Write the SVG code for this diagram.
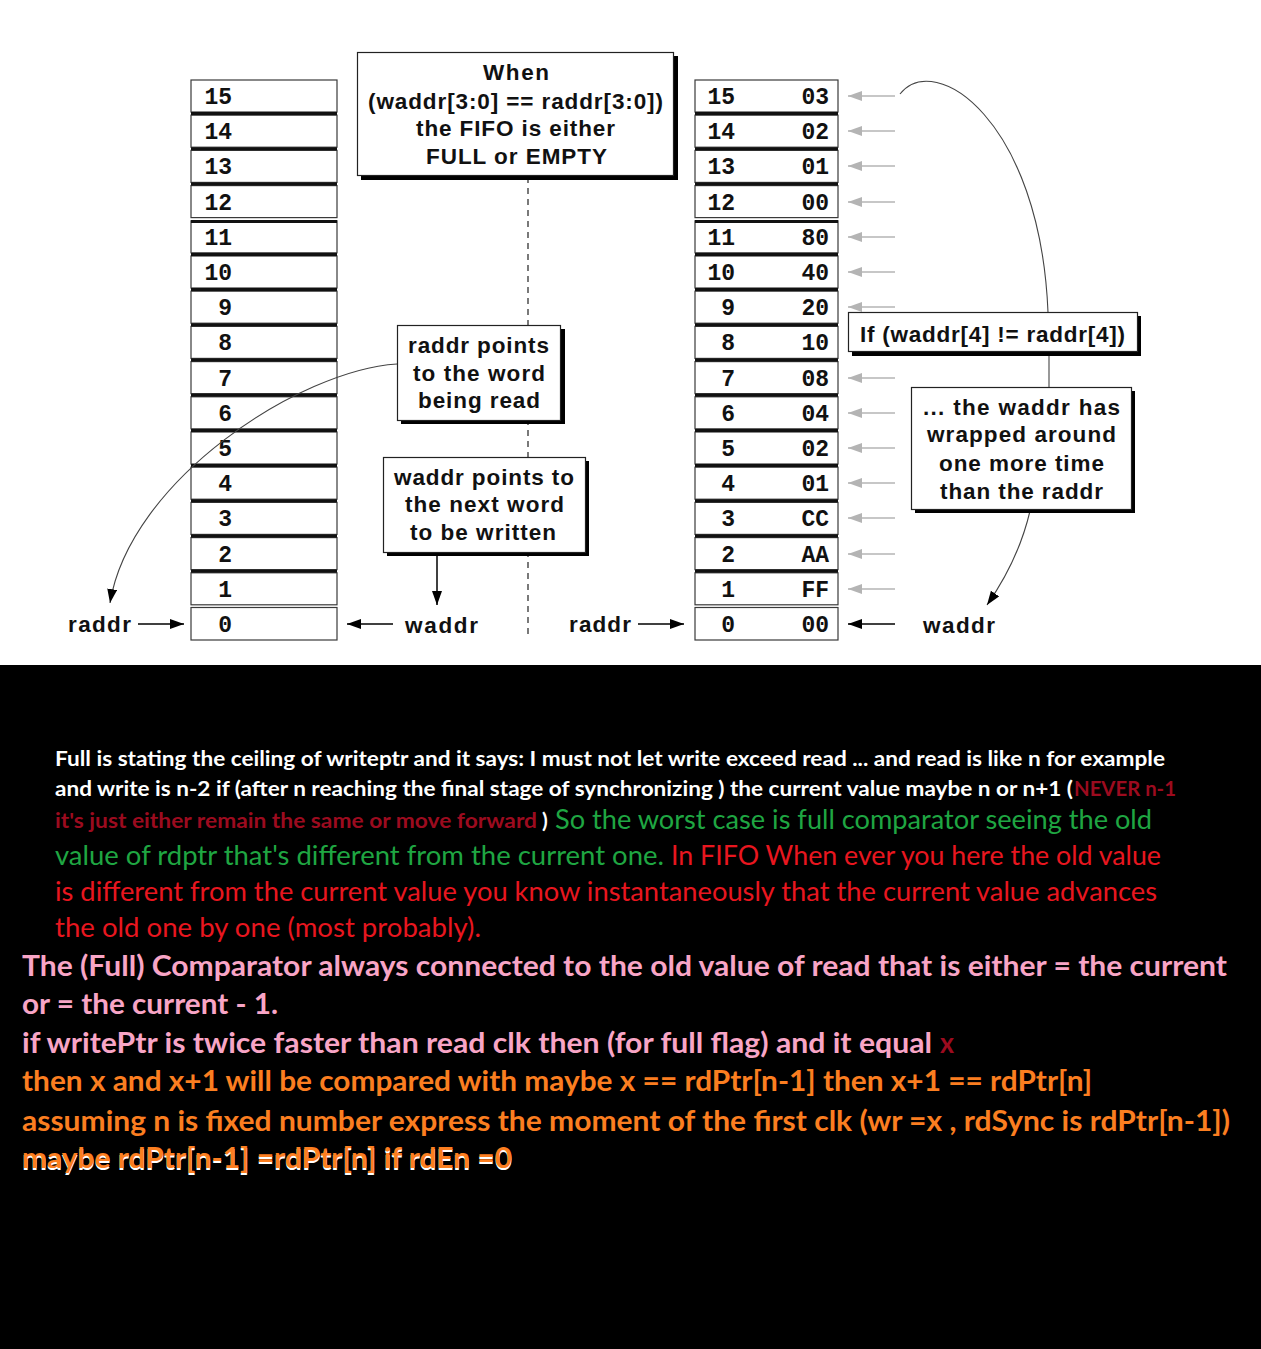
<svg xmlns="http://www.w3.org/2000/svg" width="1261" height="1349" viewBox="0 0 1261 1349">
<defs>
<marker id="ag" markerUnits="userSpaceOnUse" markerWidth="16" markerHeight="12" refX="14" refY="5" orient="auto"><path d="M0,0 L14,5 L0,10 z" fill="#b4b4b4"/></marker>
<marker id="ab" markerUnits="userSpaceOnUse" markerWidth="16" markerHeight="12" refX="14" refY="5" orient="auto"><path d="M0,0 L14,5 L0,10 z" fill="#000"/></marker>
</defs>
<style>
.cell{fill:#fff;stroke:#3a3a3a;stroke-width:1.2}
.sep{stroke:#111;stroke-width:3}
.num{font-family:"Liberation Mono","Courier New",monospace;font-weight:bold;font-size:23px;fill:#111;text-anchor:end}
.lbl{font-family:"Liberation Sans",Arial,sans-serif;font-weight:bold;font-size:22.5px;fill:#111}
.box{fill:#fff;stroke:#222;stroke-width:1.2}
.shd{fill:#000}
.ga{stroke:#b4b4b4;stroke-width:1.5;fill:none}
.ba{stroke:#000;stroke-width:1.5;fill:none}
.cv{stroke:#444;stroke-width:1.1;fill:none}
.t1{font-family:Lato,"Open Sans",sans-serif;font-weight:bold;font-size:21px}
.t2{font-family:Lato,"Open Sans",sans-serif;font-size:26px}
.t3{font-family:Lato,"Open Sans",sans-serif;font-weight:bold;font-size:28px}
</style>
<rect x="0" y="0" width="1261" height="665" fill="#fff"/>
<rect x="0" y="665" width="1261" height="684" fill="#000"/>

<g id="left-table">
<rect class="cell" x="191" y="80" width="146" height="32"/>
<rect class="cell" x="191" y="115.2" width="146" height="32"/>
<rect class="cell" x="191" y="150.4" width="146" height="32"/>
<rect class="cell" x="191" y="185.6" width="146" height="32"/>
<rect class="cell" x="191" y="220.8" width="146" height="32"/>
<rect class="cell" x="191" y="256" width="146" height="32"/>
<rect class="cell" x="191" y="291.2" width="146" height="32"/>
<rect class="cell" x="191" y="326.4" width="146" height="32"/>
<rect class="cell" x="191" y="361.6" width="146" height="32"/>
<rect class="cell" x="191" y="396.8" width="146" height="32"/>
<rect class="cell" x="191" y="432" width="146" height="32"/>
<rect class="cell" x="191" y="467.2" width="146" height="32"/>
<rect class="cell" x="191" y="502.4" width="146" height="32"/>
<rect class="cell" x="191" y="537.6" width="146" height="32"/>
<rect class="cell" x="191" y="572.8" width="146" height="32"/>
<rect class="cell" x="191" y="607.5" width="146" height="32.5"/>
<g class="sep">
<line x1="191" y1="113.6" x2="337" y2="113.6"/>
<line x1="191" y1="148.8" x2="337" y2="148.8"/>
<line x1="191" y1="184" x2="337" y2="184"/>
<line x1="191" y1="221.5" x2="337" y2="221.5"/>
<line x1="191" y1="254.4" x2="337" y2="254.4"/>
<line x1="191" y1="289.6" x2="337" y2="289.6"/>
<line x1="191" y1="324.8" x2="337" y2="324.8"/>
<line x1="191" y1="360" x2="337" y2="360"/>
<line x1="191" y1="395.2" x2="337" y2="395.2"/>
<line x1="191" y1="430.4" x2="337" y2="430.4"/>
<line x1="191" y1="465.6" x2="337" y2="465.6"/>
<line x1="191" y1="500.8" x2="337" y2="500.8"/>
<line x1="191" y1="536" x2="337" y2="536"/>
<line x1="191" y1="571.2" x2="337" y2="571.2"/>
</g>
<text class="num" x="232" y="104">15</text>
<text class="num" x="232" y="139">14</text>
<text class="num" x="232" y="174">13</text>
<text class="num" x="232" y="210">12</text>
<text class="num" x="232" y="245">11</text>
<text class="num" x="232" y="280">10</text>
<text class="num" x="232" y="315">9</text>
<text class="num" x="232" y="350">8</text>
<text class="num" x="232" y="386">7</text>
<text class="num" x="232" y="421">6</text>
<text class="num" x="232" y="456">5</text>
<text class="num" x="232" y="491">4</text>
<text class="num" x="232" y="526">3</text>
<text class="num" x="232" y="562">2</text>
<text class="num" x="232" y="597">1</text>
<text class="num" x="232" y="632">0</text>
</g>

<g id="right-table">
<rect class="cell" x="695" y="80" width="143" height="32"/>
<rect class="cell" x="695" y="115.2" width="143" height="32"/>
<rect class="cell" x="695" y="150.4" width="143" height="32"/>
<rect class="cell" x="695" y="185.6" width="143" height="32"/>
<rect class="cell" x="695" y="220.8" width="143" height="32"/>
<rect class="cell" x="695" y="256" width="143" height="32"/>
<rect class="cell" x="695" y="291.2" width="143" height="32"/>
<rect class="cell" x="695" y="326.4" width="143" height="32"/>
<rect class="cell" x="695" y="361.6" width="143" height="32"/>
<rect class="cell" x="695" y="396.8" width="143" height="32"/>
<rect class="cell" x="695" y="432" width="143" height="32"/>
<rect class="cell" x="695" y="467.2" width="143" height="32"/>
<rect class="cell" x="695" y="502.4" width="143" height="32"/>
<rect class="cell" x="695" y="537.6" width="143" height="32"/>
<rect class="cell" x="695" y="572.8" width="143" height="32"/>
<rect class="cell" x="695" y="607.5" width="143" height="32.5"/>
<g class="sep">
<line x1="695" y1="113.6" x2="838" y2="113.6"/>
<line x1="695" y1="148.8" x2="838" y2="148.8"/>
<line x1="695" y1="184" x2="838" y2="184"/>
<line x1="695" y1="221.5" x2="838" y2="221.5"/>
<line x1="695" y1="254.4" x2="838" y2="254.4"/>
<line x1="695" y1="289.6" x2="838" y2="289.6"/>
<line x1="695" y1="324.8" x2="838" y2="324.8"/>
<line x1="695" y1="360" x2="838" y2="360"/>
<line x1="695" y1="395.2" x2="838" y2="395.2"/>
<line x1="695" y1="430.4" x2="838" y2="430.4"/>
<line x1="695" y1="465.6" x2="838" y2="465.6"/>
<line x1="695" y1="500.8" x2="838" y2="500.8"/>
<line x1="695" y1="536" x2="838" y2="536"/>
<line x1="695" y1="571.2" x2="838" y2="571.2"/>
</g>
<text class="num" x="735" y="104">15</text><text class="num" x="829" y="104">03</text>
<text class="num" x="735" y="139">14</text><text class="num" x="829" y="139">02</text>
<text class="num" x="735" y="174">13</text><text class="num" x="829" y="174">01</text>
<text class="num" x="735" y="210">12</text><text class="num" x="829" y="210">00</text>
<text class="num" x="735" y="245">11</text><text class="num" x="829" y="245">80</text>
<text class="num" x="735" y="280">10</text><text class="num" x="829" y="280">40</text>
<text class="num" x="735" y="315">9</text><text class="num" x="829" y="315">20</text>
<text class="num" x="735" y="350">8</text><text class="num" x="829" y="350">10</text>
<text class="num" x="735" y="386">7</text><text class="num" x="829" y="386">08</text>
<text class="num" x="735" y="421">6</text><text class="num" x="829" y="421">04</text>
<text class="num" x="735" y="456">5</text><text class="num" x="829" y="456">02</text>
<text class="num" x="735" y="491">4</text><text class="num" x="829" y="491">01</text>
<text class="num" x="735" y="526">3</text><text class="num" x="829" y="526">CC</text>
<text class="num" x="735" y="562">2</text><text class="num" x="829" y="562">AA</text>
<text class="num" x="735" y="597">1</text><text class="num" x="829" y="597">FF</text>
<text class="num" x="735" y="632">0</text><text class="num" x="829" y="632">00</text>
</g>

<g id="connectors">
<line x1="528" y1="177" x2="528" y2="635" stroke="#222" stroke-width="1.2" stroke-dasharray="6,5"/>
<g class="ga" marker-end="url(#ag)">
<line x1="895" y1="96" x2="848" y2="96"/>
<line x1="895" y1="131" x2="848" y2="131"/>
<line x1="895" y1="166" x2="848" y2="166"/>
<line x1="895" y1="202" x2="848" y2="202"/>
<line x1="895" y1="237" x2="848" y2="237"/>
<line x1="895" y1="272" x2="848" y2="272"/>
<line x1="895" y1="307" x2="848" y2="307"/>
<line x1="895" y1="342" x2="848" y2="342"/>
<line x1="895" y1="378" x2="848" y2="378"/>
<line x1="895" y1="413" x2="848" y2="413"/>
<line x1="895" y1="448" x2="848" y2="448"/>
<line x1="895" y1="483" x2="848" y2="483"/>
<line x1="895" y1="518" x2="848" y2="518"/>
<line x1="895" y1="554" x2="848" y2="554"/>
<line x1="895" y1="589" x2="848" y2="589"/>
</g>
<g class="ba" marker-end="url(#ab)">
<line x1="895" y1="624" x2="848" y2="624"/>
<line x1="138" y1="624" x2="184" y2="624"/>
<line x1="393" y1="624" x2="347" y2="624"/>
<line x1="638" y1="624" x2="684" y2="624"/>
<line x1="437" y1="553" x2="437" y2="605"/>
</g>
<path class="cv" d="M397,364 C300,370 130,480 110,603" marker-end="url(#ab)"/>
<path class="cv" d="M900,94 C935,50 1040,120 1048,312"/>
<line x1="1049" y1="352" x2="1049" y2="387" stroke="#444" stroke-width="1.1"/>
<path class="cv" d="M1030,511 C1022,545 1008,575 987,605" marker-end="url(#ab)"/>
</g>

<g id="box-when">
<rect class="shd" x="361" y="56" width="317" height="124"/>
<rect class="box" x="357.5" y="52.5" width="316" height="123"/>
<text class="lbl" x="483" y="80" textLength="66" lengthAdjust="spacing">When</text>
<text class="lbl" x="368" y="109" textLength="295" lengthAdjust="spacing">(waddr[3:0] == raddr[3:0])</text>
<text class="lbl" x="416" y="136" textLength="199" lengthAdjust="spacing">the FIFO is either</text>
<text class="lbl" x="426" y="164" textLength="181" lengthAdjust="spacing">FULL or EMPTY</text>
</g>

<g id="box-raddr">
<rect class="shd" x="401" y="329" width="164" height="95"/>
<rect class="box" x="397.5" y="325.5" width="163" height="95"/>
<text class="lbl" x="408" y="353" textLength="141" lengthAdjust="spacing">raddr points</text>
<text class="lbl" x="413" y="381" textLength="132" lengthAdjust="spacing">to the word</text>
<text class="lbl" x="418" y="408" textLength="122" lengthAdjust="spacing">being read</text>
</g>

<g id="box-waddr">
<rect class="shd" x="387" y="461" width="202" height="95"/>
<rect class="box" x="383.5" y="457.5" width="202" height="95"/>
<text class="lbl" x="394" y="485" textLength="180" lengthAdjust="spacing">waddr points to</text>
<text class="lbl" x="405" y="512" textLength="159" lengthAdjust="spacing">the next word</text>
<text class="lbl" x="410" y="540" textLength="146" lengthAdjust="spacing">to be written</text>
</g>

<g id="box-if">
<rect class="shd" x="852" y="316" width="289" height="40"/>
<rect class="box" x="848.5" y="312.5" width="289" height="39"/>
<text class="lbl" x="860" y="342" textLength="265" lengthAdjust="spacing">If (waddr[4] != raddr[4])</text>
</g>

<g id="box-wrapped">
<rect class="shd" x="915" y="391" width="220" height="122"/>
<rect class="box" x="911.5" y="387.5" width="220" height="122"/>
<text class="lbl" x="923" y="415" textLength="197" lengthAdjust="spacing">...  the waddr has</text>
<text class="lbl" x="927" y="442" textLength="189" lengthAdjust="spacing">wrapped around</text>
<text class="lbl" x="939" y="471" textLength="165" lengthAdjust="spacing">one more time</text>
<text class="lbl" x="940" y="499" textLength="163" lengthAdjust="spacing">than the raddr</text>
</g>

<g id="pointer-labels">
<text class="lbl" x="68" y="632" textLength="63" lengthAdjust="spacing">raddr</text>
<text class="lbl" x="405" y="633" textLength="73" lengthAdjust="spacing">waddr</text>
<text class="lbl" x="569" y="632" textLength="62" lengthAdjust="spacing">raddr</text>
<text class="lbl" x="923" y="633" textLength="72" lengthAdjust="spacing">waddr</text>
</g>

<g id="notes">
<text class="t1" x="55" y="766" fill="#fff" textLength="1110" lengthAdjust="spacingAndGlyphs">Full is stating the ceiling of writeptr and it says: I must not let write exceed read ... and read is like n for example</text>
<text class="t1" x="55" y="796" fill="#fff" textLength="1018" lengthAdjust="spacingAndGlyphs">and write is n-2 if (after n reaching the final stage of synchronizing ) the current value maybe n or n+1 (</text>
<text class="t1" x="1074" y="796" fill="#9c0b1f" textLength="102" lengthAdjust="spacingAndGlyphs">NEVER n-1</text>
<text class="t1" x="55" y="828" fill="#9c0b1f" textLength="482" lengthAdjust="spacingAndGlyphs">it's just either remain the same or move forward</text>
<text class="t1" x="542" y="828" fill="#fff">)</text>
<text class="t2" x="555" y="829" fill="#1fa642" textLength="597" lengthAdjust="spacingAndGlyphs">So the worst case is full comparator seeing the old</text>
<text class="t2" x="55" y="865" fill="#1fa642" textLength="609" lengthAdjust="spacingAndGlyphs">value of rdptr that's different from the current one.</text>
<text class="t2" x="671" y="865" fill="#e8161f" textLength="490" lengthAdjust="spacingAndGlyphs">In FIFO When ever you here the old value</text>
<text class="t2" x="55" y="901" fill="#e8161f" textLength="1102" lengthAdjust="spacingAndGlyphs">is different from the current value you know instantaneously that the current value advances</text>
<text class="t2" x="55" y="937" fill="#e8161f" textLength="426" lengthAdjust="spacingAndGlyphs">the old one by one (most probably).</text>
<text class="t3" x="22" y="976" fill="#f8a5c6" textLength="1205" lengthAdjust="spacingAndGlyphs">The (Full) Comparator always connected to the old value of read that is either = the current</text>
<text class="t3" x="22" y="1014" fill="#f8a5c6" textLength="256" lengthAdjust="spacingAndGlyphs">or = the current - 1.</text>
<text class="t3" x="22" y="1053" fill="#f8a5c6" textLength="910" lengthAdjust="spacingAndGlyphs">if writePtr is twice faster than read clk then (for full flag) and it equal</text>
<text class="t3" x="940" y="1053" fill="#9c0b1f" textLength="14" lengthAdjust="spacingAndGlyphs">x</text>
<text class="t3" x="22" y="1091" fill="#fb7e20" textLength="1070" lengthAdjust="spacingAndGlyphs">then x and x+1 will be compared with maybe x == rdPtr[n-1] then x+1 == rdPtr[n]</text>
<text class="t3" x="22" y="1131" fill="#fb7e20" textLength="1208" lengthAdjust="spacingAndGlyphs">assuming n is fixed number express the moment of the first clk (wr =x , rdSync is rdPtr[n-1])</text>
<text class="t3" x="22" y="1170" fill="#fff" textLength="490" lengthAdjust="spacingAndGlyphs">maybe rdPtr[n-1] =rdPtr[n] if rdEn =0</text>
<text class="t3" x="22" y="1168" fill="#fb7e20" textLength="490" lengthAdjust="spacingAndGlyphs">maybe rdPtr[n-1] =rdPtr[n] if rdEn =0</text>
</g>
</svg>
